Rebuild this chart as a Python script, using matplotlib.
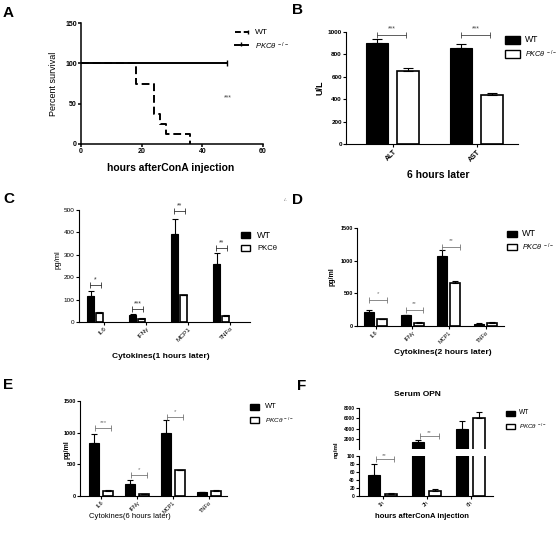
import matplotlib
matplotlib.use('Agg')
import matplotlib.pyplot as plt
from matplotlib.patches import Rectangle
from matplotlib.lines import Line2D
import numpy as np

plt.rcParams['font.family'] = ['Liberation Sans', 'DejaVu Sans']
plt.rcParams['mathtext.fontset'] = 'custom'
plt.rcParams['mathtext.rm'] = 'Liberation Sans'
plt.rcParams['mathtext.it'] = 'Liberation Sans:italic'

W, H = 558, 534

# ---- data ----
# A: survival after ConA
wt_hours = [0, 18, 24, 26, 28, 36]
wt_survival = [100, 75, 37.5, 25, 12.5, 0]
ko_hours = [0, 48]
ko_survival = [100, 100]

# B: liver enzymes, 6 h
enzymes = ['ALT', 'AST']
b_wt = [905, 855]
b_wt_err = [30, 35]
b_ko = [655, 435]
b_ko_err = [22, 18]
b_sig = ['***', '***']
b_sig_y = [970, 970]

# C/D/E: cytokines
cytokines = ['IL6', 'IFNγ', 'MCP1', 'TNFα']
c_wt = [114, 31, 393, 260]
c_wt_err = [25, 3, 67, 47]
c_ko = [40, 13, 119, 28]
c_ko_err = [3, 3, 3, 4]
c_sig = ['*', '***', '**', '**']
c_sig_y = [165, 58, 497, 332]

d_wt = [209, 163, 1071, 36]
d_wt_err = [41, 12, 92, 4]
d_ko = [102, 51, 653, 46]
d_ko_err = [10, 6, 37, 14]
d_sig = ['*', '**', '**', '']
d_sig_y = [393, 245, 1209, 0]

e_wt = [842, 189, 995, 63]
e_wt_err = [137, 64, 205, 7]
e_ko = [75, 30, 405, 79]
e_ko_err = [25, 5, 5, 16]
e_sig = ['***', '*', '*', '']
e_sig_y = [1074, 337, 1247, 0]

# F: serum OPN (broken axis at 100)
opn_times = ['1h', '2h', '6h']
f_wt = [52.5, 1355, 4000]
f_wt_err = [28.5, 385, 1480]
f_ko = [5, 12.5, 6000]
f_ko_err = [3, 5, 1226]
f_sig = ['**', '**', '']
f_sig_y = [92, 2516, 0]
f_break = 100

ko_label = r'$\mathit{PKC\theta}^{\ -/-}$'

fig = plt.figure(figsize=(W / 100, H / 100), dpi=100)


def add_ax(l, t, r, b):
    return fig.add_axes([l / W, 1 - b / H, (r - l) / W, (b - t) / H])


def put(x, y, s, **kw):
    kw.setdefault('ha', 'center')
    kw.setdefault('va', 'center')
    fig.text(x / W, 1 - y / H, s, **kw)


def clean(ax, size, weight='normal', lw=0.8):
    ax.spines[['top', 'right']].set_visible(False)
    ax.spines[['left', 'bottom']].set_linewidth(lw)
    ax.tick_params(length=2, width=lw, labelsize=size, pad=1)
    plt.setp(ax.get_yticklabels(), fontweight=weight)


def grouped(ax, wt, wt_err, ko, ko_err, wt_off, ko_off, width, cap):
    x = np.arange(len(wt))
    ax.bar(x + wt_off, wt, width, color='black', edgecolor='black', linewidth=0.8, zorder=2)
    ax.bar(x + ko_off, ko, width, color='white', edgecolor='black', linewidth=1.2, zorder=2)
    for pos, v, e in ((x + wt_off, wt, wt_err), (x + ko_off, ko, ko_err)):
        ax.errorbar(pos, v, yerr=[np.zeros(len(v)), e], fmt='none', ecolor='black',
                    elinewidth=0.8, capsize=cap, capthick=0.8, zorder=3)
    return x


def brackets(ax, x, sigs, levels, x1, x2, color, size, gap):
    for xi, s, y in zip(x, sigs, levels):
        if not s:
            continue
        ax.plot([xi + x1, xi + x2], [y, y], color=color, lw=0.6, marker='|', ms=4,
                mew=0.6, clip_on=False, zorder=4)
        ax.annotate(s, (xi + (x1 + x2) / 2, y), xytext=(0, gap), textcoords='offset points',
                    ha='center', va='bottom', fontsize=size, color=color, annotation_clip=False)


def bar_legend(x, y1, y2, sw, sh, tx, fs, label2, ko_fs, italic=True):
    for y, fc in ((y1, 'black'), (y2, 'white')):
        fig.add_artist(Rectangle((x / W, 1 - (y + sh / 2) / H), sw / W, sh / H,
                                 transform=fig.transFigure, facecolor=fc,
                                 edgecolor='black', linewidth=1.0))
    put(tx, y1, 'WT', ha='left', fontsize=fs)
    put(tx, y2, label2, ha='left', fontsize=ko_fs,
        style='italic' if italic else 'normal')


# ---------------- A ----------------
axA = add_ax(81, 23, 263, 144)
axA.step(wt_hours, wt_survival, where='post', color='black', lw=1.4, ls=(0, (4, 2)))
axA.plot(ko_hours, ko_survival, color='black', lw=1.4)
axA.plot(ko_hours[-1:], ko_survival[-1:], marker='|', color='black', ms=5, mew=1)
axA.set_xlim(0, 60)
axA.set_ylim(0, 150)
axA.set_xticks([0, 20, 40, 60])
axA.set_yticks([0, 50, 100, 150])
clean(axA, 5, 'bold', lw=1.1)
plt.setp(axA.get_xticklabels(), fontweight='bold')
axA.text(48.5, 57, '***', ha='center', va='center', fontsize=5, color='#444')
put(53, 84, 'Percent survival', rotation=90, fontsize=6.5)
put(171, 168, 'hours afterConA injection', fontsize=7.5, fontweight='bold')
fig.add_artist(Line2D([235 / W, 248 / W], [1 - 32 / H] * 2, transform=fig.transFigure,
                      color='black', lw=1.4, ls=(0, (3, 1.5)), marker='|', markevery=[1], ms=3))
fig.add_artist(Line2D([235 / W, 248 / W], [1 - 45 / H] * 2, transform=fig.transFigure,
                      color='black', lw=1.4))
fig.add_artist(Line2D([241 / W], [1 - 44 / H], transform=fig.transFigure,
                      color='black', marker='|', ms=3, mew=1))
put(255, 32, 'WT', ha='left', fontsize=6)
put(255, 46, ko_label, ha='left', fontsize=5.5)

# ---------------- B ----------------
axB = add_ax(346, 32, 518, 144)
xb = grouped(axB, b_wt, b_wt_err, b_ko, b_ko_err, -0.19, 0.18, 0.26, 3.5)
brackets(axB, xb, b_sig, b_sig_y, -0.19, 0.16, '#444', 5, 2)
axB.set_xlim(-0.56, 1.49)
axB.set_ylim(0, 1000)
axB.set_yticks(range(0, 1001, 200))
axB.set_xticks(xb, enzymes, rotation=45, ha='right', rotation_mode='anchor')
clean(axB, 4.6, 'bold')
plt.setp(axB.get_xticklabels(), fontweight='bold', fontsize=5)
put(320, 88, 'U/L', rotation=90, fontsize=6.5, fontweight='bold')
put(438, 175, '6 hours later', fontsize=7.5, fontweight='bold')
bar_legend(505, 40, 54, 15, 7, 525, 6.2, ko_label, 5.2)

# ---------------- C ----------------
axC = add_ax(79, 210, 250, 322)
xc = grouped(axC, c_wt, c_wt_err, c_ko, c_ko_err, -0.32, -0.107, 0.18, 2.5)
brackets(axC, xc, c_sig, c_sig_y, -0.34, -0.07, '#333', 5, 1)
axC.set_xlim(-0.595, 3.476)
axC.set_ylim(0, 500)
axC.set_yticks(range(0, 501, 100))
axC.set_xticks(xc, cytokines, rotation=45, ha='right', rotation_mode='anchor')
clean(axC, 4.6)
plt.setp(axC.get_xticklabels(), fontsize=4.6)
put(58, 260, 'pg/ml', rotation=90, fontsize=5.5)
put(161, 357, 'Cytokines(1 hours later)', fontsize=6, fontweight='bold')
bar_legend(241, 235, 248, 9, 6, 257, 6.5, 'PKCθ', 5.5, italic=False)
put(286, 200, '-/-', fontsize=3, color='#555')

# ---------------- D ----------------
axD = add_ax(357, 228, 504, 326)
xd = grouped(axD, d_wt, d_wt_err, d_ko, d_ko_err, -0.177, 0.177, 0.27, 2.5)
brackets(axD, xd, d_sig, d_sig_y, -0.18, 0.3, '#777', 4.5, 3)
axD.set_xlim(-0.504, 3.5)
axD.set_ylim(0, 1500)
axD.set_yticks([0, 500, 1000, 1500])
axD.set_xticks(xd, cytokines, rotation=45, ha='right', rotation_mode='anchor')
clean(axD, 4, 'bold')
plt.setp(axD.get_xticklabels(), fontsize=4)
put(332, 277, 'pg/ml', rotation=90, fontsize=5, fontweight='bold')
put(443, 353, 'Cytokines(2 hours later)', fontsize=6, fontweight='bold')
bar_legend(507, 234, 247, 10, 6, 522, 6.5, ko_label, 5.2)

# ---------------- E ----------------
axE = add_ax(80, 401, 227, 496)
xe = grouped(axE, e_wt, e_wt_err, e_ko, e_ko_err, -0.194, 0.194, 0.28, 2.5)
brackets(axE, xe, e_sig, e_sig_y, -0.17, 0.28, '#777', 4.5, 2)
axE.set_xlim(-0.583, 3.5)
axE.set_ylim(0, 1500)
axE.set_yticks([0, 500, 1000, 1500])
axE.set_xticks(xe, cytokines, rotation=45, ha='right', rotation_mode='anchor')
clean(axE, 4, 'bold')
plt.setp(axE.get_xticklabels(), fontsize=4)
put(67, 450, 'pg/ml', rotation=90, fontsize=5, fontweight='bold')
put(130, 516, 'Cytokines(6 hours later)', fontsize=5.5)
bar_legend(250, 407, 420, 9, 6, 265, 5.4, ko_label, 4.6)

# ---------------- F (broken axis) ----------------
axFu = add_ax(359, 408, 493, 449)
axFl = add_ax(359, 456, 493, 496)
# upper segment only shows bars that pass the break
wt_hi = np.where(np.array(f_wt) > f_break, f_wt, np.nan)
ko_hi = np.where(np.array(f_ko) > f_break, f_ko, np.nan)
xf = grouped(axFu, wt_hi, f_wt_err, ko_hi, f_ko_err, -0.19, 0.19, 0.27, 2.5)
grouped(axFl, f_wt, f_wt_err, f_ko, f_ko_err, -0.19, 0.19, 0.27, 2.5)
for ax in (axFu, axFl):
    ax.set_xlim(-0.534, 2.51)
axFu.set_ylim(f_break, 8000)
axFl.set_ylim(0, f_break)
axFu.set_yticks([2000, 4000, 6000, 8000])
axFl.set_yticks(range(0, 101, 20))
brackets(axFl, xf[:1], f_sig[:1], f_sig_y[:1], -0.15, 0.25, '#777', 4.5, 1)
brackets(axFu, xf[1:2], f_sig[1:2], f_sig_y[1:2], -0.15, 0.28, '#777', 4.5, 1)
axFl.set_xticks(xf, opn_times, rotation=45, ha='right', rotation_mode='anchor')
clean(axFu, 3.5, 'bold')
clean(axFl, 3.5, 'bold')
axFu.spines['bottom'].set_visible(False)
axFu.set_xticks([])
plt.setp(axFl.get_xticklabels(), fontsize=4)
put(336, 450, 'ng/ml', rotation=90, fontsize=4.5, fontweight='bold')
put(417, 395, 'Serum OPN', fontsize=6, fontweight='bold')
put(422, 517, 'hours afterConA injection', fontsize=5.5, fontweight='bold')
bar_legend(506, 413, 426, 9, 5, 519, 4.8, ko_label, 4.4)

# panel letters
for letter, lx, ly in (('A', 3, 13), ('B', 292, 10), ('C', 3, 199),
                       ('D', 292, 200), ('E', 3, 385), ('F', 297, 386)):
    put(lx, ly, letter, ha='left', fontsize=11, fontweight='bold')

fig.savefig('out.png', dpi=100)
